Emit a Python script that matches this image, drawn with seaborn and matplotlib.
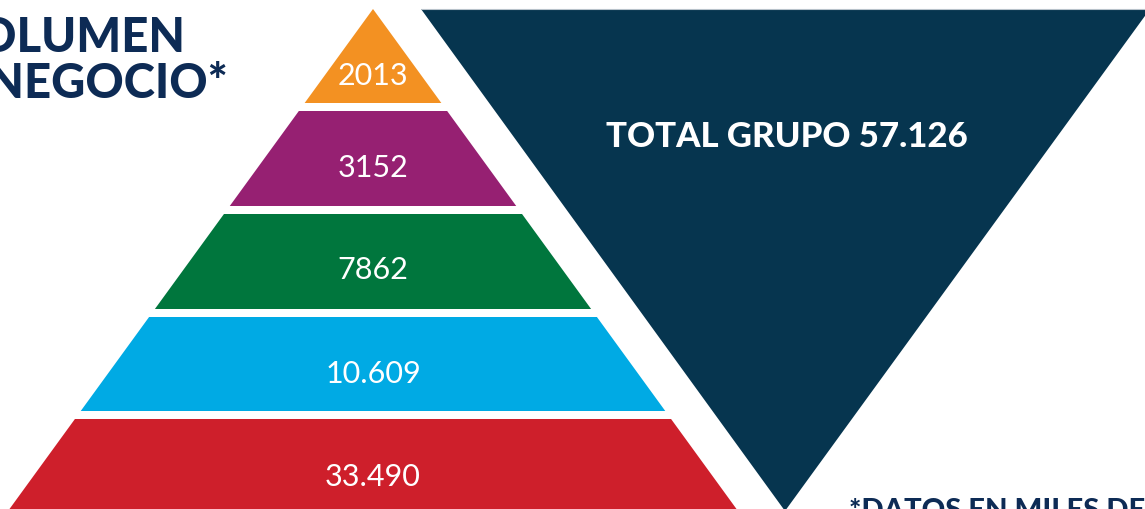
import matplotlib
matplotlib.use('Agg')
import matplotlib.pyplot as plt
from matplotlib.patches import Polygon
import seaborn as sns

# pyramid layers, top to bottom
layer_labels = ['2013', '3152', '7862', '10.609', '33.490']
layer_colors = ['#F39122', '#962072', '#00763D', '#00AAE4', '#CE1F2B']
total_label = 'TOTAL GRUPO 57.126'
title_lines = ['VOLUMEN', 'DE NEGOCIO*']
footnote = '*DATOS EN MILES DE EUROS'

NAVY = '#06354F'
TEXT_NAVY = '#0D2B55'

sns.set_theme(style='white')
plt.rcParams['font.family'] = ['Lato', 'DejaVu Sans']

W, H = 1145, 510
fig = plt.figure(figsize=(W / 100, H / 100), dpi=100)
ax = fig.add_axes([0, 0, 1, 1])
ax.set_xlim(0, W)
ax.set_ylim(H, 0)
ax.axis('off')

# pyramid geometry (pixels)
apex_x, apex_y = 373, 10
slope = 0.727
band_tops = [10, 112, 215, 318, 420]
band_bottoms = [104, 207, 310, 412, 530]
label_base = [85, 177, 279, 383, 486]


def half_width(y):
    return slope * (y - apex_y)


for i, (lab, col) in enumerate(zip(layer_labels, layer_colors)):
    t, b = band_tops[i], band_bottoms[i]
    pts = [(apex_x - half_width(t), t), (apex_x + half_width(t), t),
           (apex_x + half_width(b), b), (apex_x - half_width(b), b)]
    ax.add_patch(Polygon(pts, closed=True, facecolor=col, edgecolor='none'))
    ax.text(apex_x, label_base[i], lab, color='white', fontsize=22,
            ha='center', va='baseline')

# inverted triangle for the total
tri = [(421, 10), (1150, 10), (785, 512)]
ax.add_patch(Polygon(tri, closed=True, facecolor=NAVY, edgecolor='none'))
ax.plot([421, 1145], [9.5, 9.5], color='#B8C2CA', lw=0.8)
ax.text(787, 147, total_label, color='white', fontsize=25, fontweight='black',
        ha='center', va='baseline')

# title, cut on the left like the source
ax.text(185, 52, title_lines[0], color=TEXT_NAVY, fontsize=34,
        fontweight='black', ha='right', va='baseline')
ax.text(228, 98, title_lines[1], color=TEXT_NAVY, fontsize=34,
        fontweight='black', ha='right', va='baseline')

ax.text(849, 519, footnote, color=TEXT_NAVY, fontsize=21,
        fontweight='black', ha='left', va='baseline')

fig.savefig('out.png', dpi=100)
